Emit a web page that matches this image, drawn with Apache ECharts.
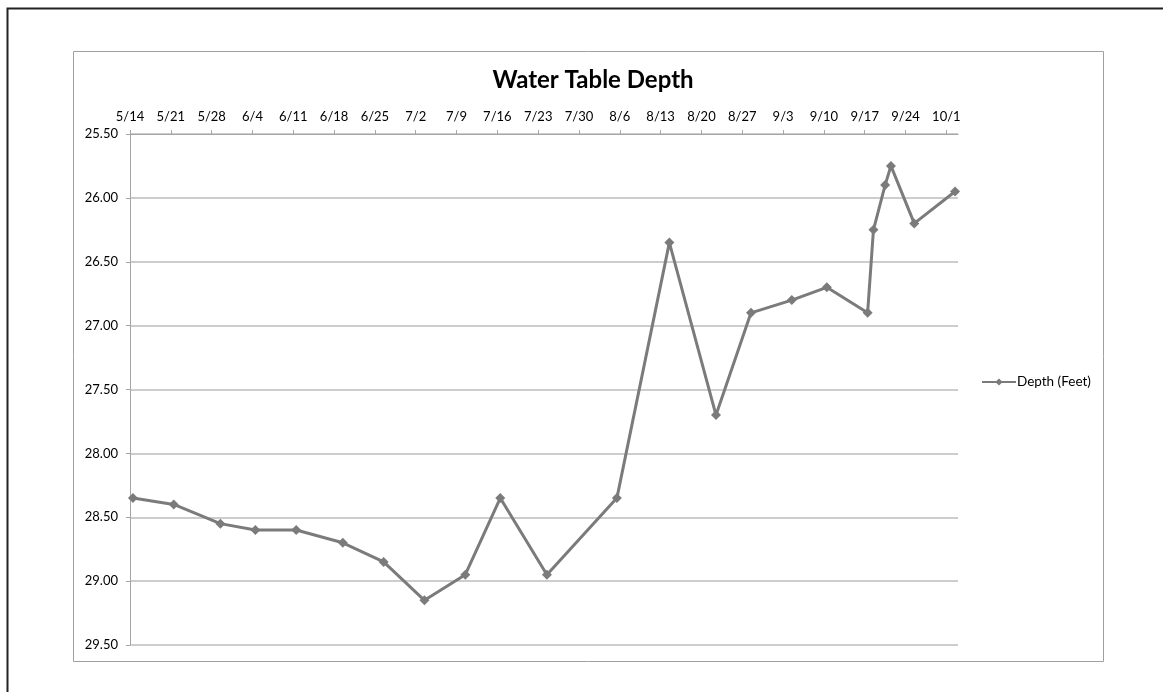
<!DOCTYPE html>
<html>
<head>
<meta charset="utf-8">
<title>Water Table Depth</title>
<script src="https://cdn.jsdelivr.net/npm/echarts@6/dist/echarts.min.js"></script>
<style>
  html, body { margin: 0; padding: 0; background: #fff; }
  #chart { width: 1163px; height: 692px; }
</style>
</head>
<body>
<div id="chart"></div>
<script>
// weekly tick labels along the top axis
const tickLabels = ["5/14", "5/21", "5/28", "6/4", "6/11", "6/18", "6/25", "7/2", "7/9", "7/16", "7/23",
  "7/30", "8/6", "8/13", "8/20", "8/27", "9/3", "9/10", "9/17", "9/24", "10/1"];

// reading dates and measured depth
const readingDates = ["5/14", "5/21", "5/29", "6/4", "6/11", "6/19", "6/26", "7/3", "7/10", "7/16", "7/24",
  "8/5", "8/14", "8/22", "8/28", "9/4", "9/10", "9/17", "9/18", "9/20", "9/21", "9/25", "10/2"];
const depthFeet = [28.35, 28.40, 28.55, 28.60, 28.60, 28.70, 28.85, 29.15, 28.95, 28.35, 28.95,
  28.35, 26.35, 27.70, 26.90, 26.80, 26.70, 26.90, 26.25, 25.90, 25.75, 26.20, 25.95];

// days counted from the first tick date
const startDay = Date.UTC(2012, 4, 14);
function toDay(md) {
  const p = md.split("/");
  return Math.round((Date.UTC(2012, +p[0] - 1, +p[1]) - startDay) / 86400000);
}
function toLabel(day) {
  const d = new Date(startDay + day * 86400000);
  return (d.getUTCMonth() + 1) + "/" + d.getUTCDate();
}

const tickDays = tickLabels.map(toDay);
// excel date axis puts points between tick marks (half a day in)
const points = readingDates.map(function (d, i) { return [toDay(d) + 0.5, depthFeet[i]]; });

const font = "Lato, 'Open Sans', sans-serif";
const myChart = echarts.init(document.getElementById("chart"));

const option = {
  backgroundColor: "#fff",
  animation: false,
  title: {
    text: "Water Table Depth",
    left: 588,
    top: 63,
    textAlign: "center",
    textStyle: { fontFamily: font, fontSize: 24, fontWeight: "bold", color: "#000" }
  },
  legend: {
    data: ["Depth (Feet)"],
    orient: "vertical",
    left: 976,
    top: 370,
    itemWidth: 34,
    itemHeight: 9,
    itemGap: 4,
    textStyle: { fontFamily: font, fontSize: 13.5, color: "#000", padding: [0, 0, 0, -4] }
  },
  grid: {
    left: 130,
    right: 205,
    top: 134,
    bottom: 47,
    containLabel: false
  },
  xAxis: {
    type: "value",
    position: "top",
    min: 0,
    max: toDay("10/1") + 2,
    splitLine: { show: false },
    axisLine: { show: true, lineStyle: { color: "#a6a6a6", width: 1 } },
    axisTick: {
      show: true,
      customValues: tickDays,
      length: 4,
      lineStyle: { color: "#a6a6a6" }
    },
    axisLabel: {
      customValues: tickDays,
      margin: 11,
      fontFamily: font,
      fontSize: 13,
      color: "#000",
      formatter: function (v) { return toLabel(v); }
    }
  },
  yAxis: {
    type: "value",
    inverse: true,
    min: 25.5,
    max: 29.5,
    interval: 0.5,
    axisLine: { show: true, lineStyle: { color: "#a6a6a6", width: 1 } },
    axisTick: { show: true, length: 4, lineStyle: { color: "#a6a6a6" } },
    splitLine: { show: true, lineStyle: { color: "#bcbcbc", width: 1.5 } },
    axisLabel: {
      margin: 12,
      fontFamily: font,
      fontSize: 13,
      color: "#000",
      formatter: function (v) { return v.toFixed(2); }
    }
  },
  series: [
    {
      name: "Depth (Feet)",
      type: "line",
      data: points,
      symbol: "diamond",
      symbolSize: 10,
      showAllSymbol: true,
      lineStyle: { color: "#7b7b7b", width: 3 },
      itemStyle: { color: "#7b7b7b" }
    }
  ],
  graphic: [
    {
      type: "rect",
      shape: { x: 73.5, y: 51.5, width: 1030, height: 610 },
      style: { fill: null, stroke: "#a0a0a0", lineWidth: 1 },
      silent: true
    },
    {
      type: "polyline",
      shape: { points: [[7.5, 700], [7.5, 8.5], [1200, 8.5]] },
      style: { fill: null, stroke: "#222", lineWidth: 2 },
      silent: true
    }
  ]
};
myChart.setOption(option);
</script>
</body>
</html>
